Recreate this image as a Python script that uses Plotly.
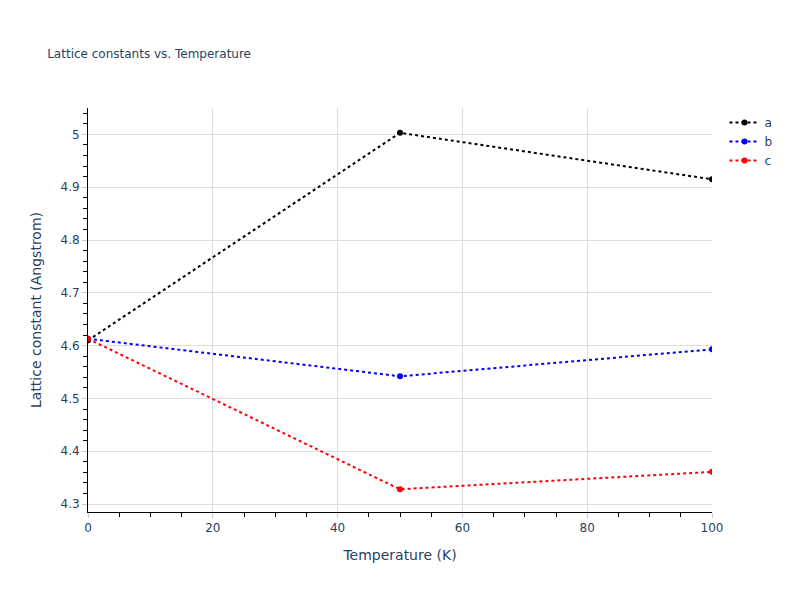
import plotly.graph_objects as go

temperature = [0, 50, 100]
lattice_a = [4.610, 5.003, 4.915]
lattice_b = [4.613, 4.542, 4.593]
lattice_c = [4.613, 4.328, 4.361]

series = [('a', lattice_a, 'black'), ('b', lattice_b, 'blue'), ('c', lattice_c, 'red')]

fig = go.Figure()
for name, vals, color in series:
    fig.add_trace(go.Scatter(
        x=temperature, y=vals, name=name, mode='lines+markers',
        line=dict(color=color, dash='dot', width=2),
        marker=dict(color=color, size=6),
    ))

axis_style = dict(
    showline=True, linecolor='black', linewidth=1,
    gridcolor='#dddddd', ticks='outside', tickcolor='#cccccc',
    zeroline=False,
)
fig.update_xaxes(title='Temperature (K)', range=[0, 100], dtick=20,
                 minor=dict(dtick=5, ticks='outside', ticklen=4, tickcolor='black'),
                 **axis_style)
fig.update_yaxes(title='Lattice constant (Angstrom)', range=[4.285, 5.05], dtick=0.1,
                 minor=dict(dtick=0.02, ticks='outside', ticklen=4, tickcolor='black'),
                 **axis_style)
fig.update_layout(
    title=dict(text='Lattice constants vs. Temperature', font=dict(size=12)),
    template='plotly_white',
    font=dict(family='DejaVu Sans', size=12),
    margin=dict(l=80, r=80, t=100, b=80),
)
fig.write_html('out.html')
